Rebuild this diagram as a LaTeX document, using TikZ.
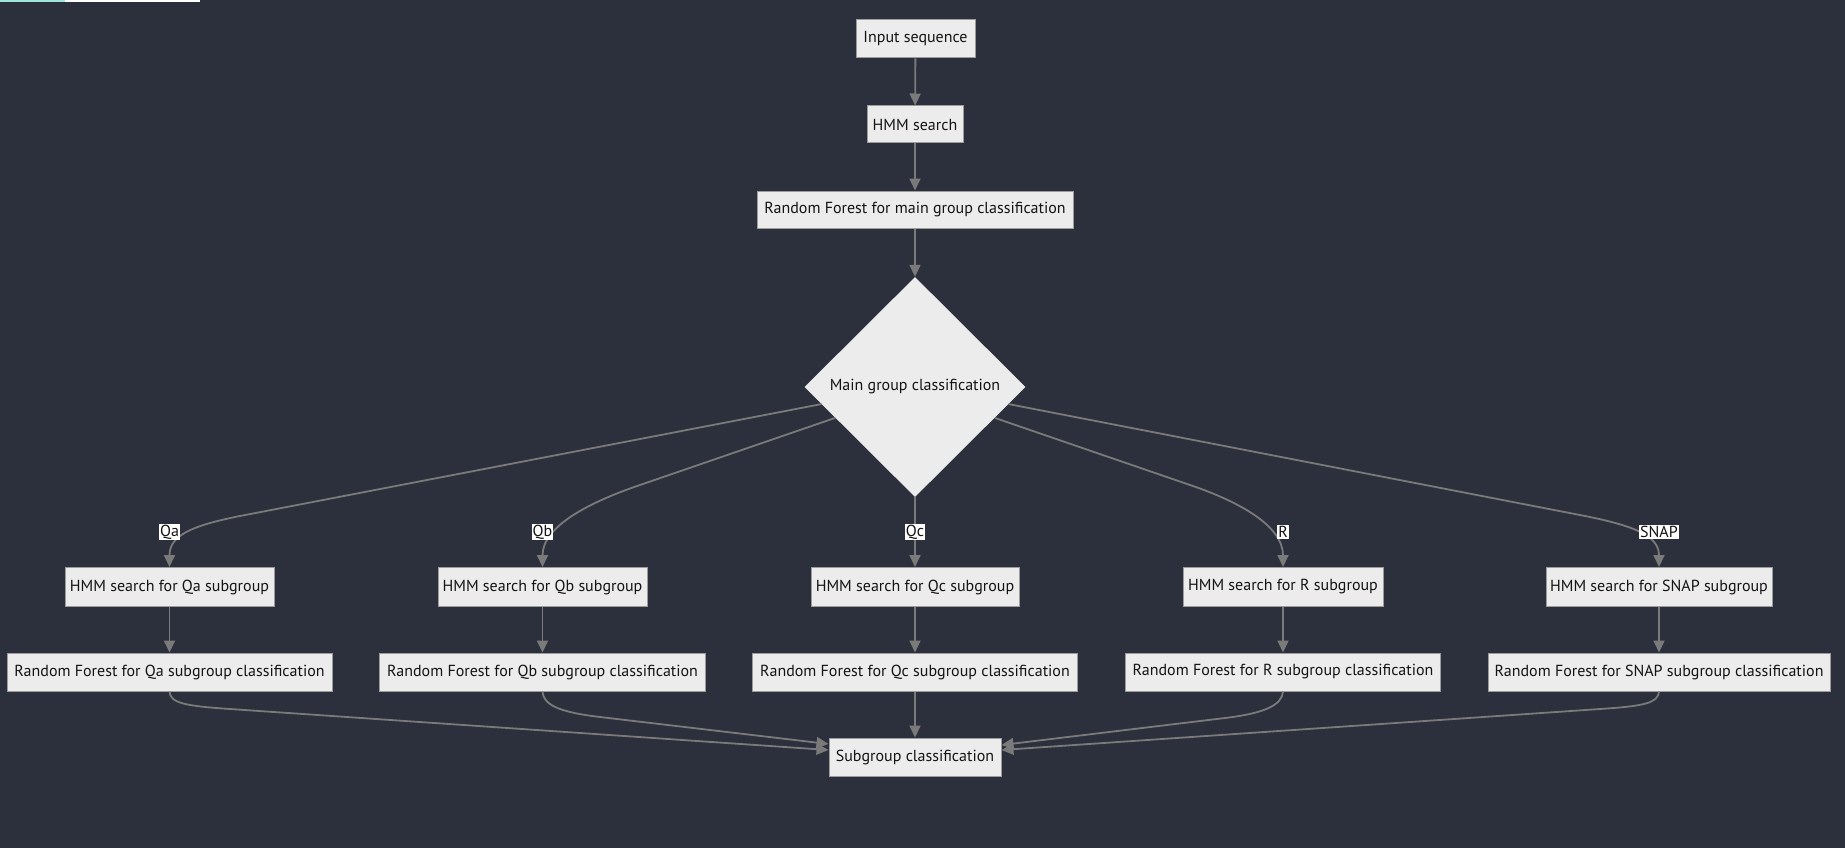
\documentclass[tikz,border=0pt]{standalone}
\usepackage{fontspec}
\setmainfont{PT Sans}
\usetikzlibrary{arrows.meta,shapes.geometric,calc}
\definecolor{bgc}{HTML}{2C303C}
\definecolor{boxfill}{HTML}{ECECEC}
\definecolor{boxline}{HTML}{9C9C9C}
\definecolor{edgec}{HTML}{7A7A7A}
\definecolor{txt}{HTML}{141414}
\definecolor{cyanbar}{HTML}{9FE3D9}
\tikzset{
  box/.style={draw=boxline, line width=1pt, fill=boxfill, text=txt, inner sep=0pt,
    font=\fontsize{16}{19}\selectfont, anchor=center},
  dec/.style={diamond, fill=boxfill, text=txt, inner sep=0pt, minimum width=221pt,
    minimum height=220pt, font=\fontsize{16}{19}\selectfont},
  elab/.style={fill=white, text=txt, inner sep=1pt, font=\fontsize{16}{19}\selectfont},
  edge/.style={draw=edgec, line width=1.8pt, -{Triangle[length=12pt,width=11pt]}},
  plainedge/.style={draw=edgec, line width=1.8pt}
}
\begin{document}
\begin{tikzpicture}[x=1pt,y=-1pt]
\fill[bgc] (0,0) rectangle (1845,848);
\useasboundingbox (0,0) rectangle (1845,848);
\fill[white] (0,0) rectangle (200,2);
\fill[cyanbar] (0,0) rectangle (65,2);

% top chain
\node[box, minimum width=119pt, minimum height=38pt] (in) at (915.5,39) {Input sequence};
\node[box, minimum width=96pt, minimum height=37pt] (hmm) at (915,124.5) {HMM search};
\node[box, minimum width=316pt, minimum height=37pt] (rf) at (915,209.5) {Random Forest for main group classification};
\node[dec] (dia) at (915,387) {Main group classification};

% subgroup HMM boxes
\node[box, minimum width=209pt, minimum height=39pt] (hqa) at (169.5,587) {HMM search for Qa subgroup};
\node[box, minimum width=209pt, minimum height=39pt] (hqb) at (542.5,587) {HMM search for Qb subgroup};
\node[box, minimum width=208pt, minimum height=39pt] (hqc) at (915,587) {HMM search for Qc subgroup};
\node[box, minimum width=200pt, minimum height=39pt] (hr) at (1283,587) {HMM search for R subgroup};
\node[box, minimum width=226pt, minimum height=39pt] (hsn) at (1659,587) {HMM search for SNAP subgroup};

% subgroup RF boxes
\node[box, minimum width=325pt, minimum height=38pt] (rqa) at (169.5,672) {Random Forest for Qa subgroup classification};
\node[box, minimum width=326pt, minimum height=38pt] (rqb) at (542.5,672) {Random Forest for Qb subgroup classification};
\node[box, minimum width=325pt, minimum height=38pt] (rqc) at (915,672) {Random Forest for Qc subgroup classification};
\node[box, minimum width=315pt, minimum height=38pt] (rr) at (1283,672) {Random Forest for R subgroup classification};
\node[box, minimum width=342pt, minimum height=38pt] (rsn) at (1659,672) {Random Forest for SNAP subgroup classification};

\node[box, minimum width=172pt, minimum height=38pt] (sub) at (915,757) {Subgroup classification};

% top edges
\draw[edge] (in) -- (hmm);
\draw[edge] (hmm) -- (rf);
\draw[edge] (rf) -- (dia.north);

% diamond to HMM
\coordinate (sqa) at ($(dia.west)!0.155!(dia.south)$);
\coordinate (sqb) at ($(dia.west)!0.28!(dia.south)$);
\coordinate (sr) at ($(dia.east)!0.28!(dia.south)$);
\coordinate (ssn) at ($(dia.east)!0.155!(dia.south)$);

\draw[edge] (sqa) -- (240,516) .. controls (190,526) and (169.5,536) .. (hqa.north);
\draw[edge] (sqb) -- (640,485) .. controls (590,502) and (542.5,526) .. (hqb.north);
\draw[edge] (dia.south) -- (hqc.north);
\draw[edge] (sr) -- (1190,485) .. controls (1240,502) and (1283,526) .. (hr.north);
\draw[edge] (ssn) -- (1585,516) .. controls (1635,526) and (1659,536) .. (hsn.north);

% labels
\node[elab] (lqa) at (169.5,532) {Qa};
\node[elab] (lqb) at (542.5,532) {Qb};
\node[elab] (lqc) at (915,532) {Qc};
\node[elab] (lr) at (1283,532) {R};
\node[elab] (lsn) at (1659,532) {SNAP};

% HMM to RF
\draw[edge] (hqa) -- (rqa);
\draw[edge] (hqb) -- (rqb);
\draw[edge] (hqc) -- (rqc);
\draw[edge] (hr) -- (rr);
\draw[edge] (hsn) -- (rsn);

% RF to subgroup
\draw[edge] (rqa.south) .. controls (170,703) and (185,706) .. (230,709) -- ([yshift=7pt]sub.west);
\draw[edge] (rqb.south) .. controls (543,705) and (560,712.3) .. (600,717) -- ([yshift=13pt]sub.west);
\draw[edge] (rqc) -- (sub);
\draw[edge] (rr.south) .. controls (1282,705) and (1265,713.2) .. (1225,718) -- ([yshift=12pt]sub.east);
\draw[edge] (rsn.south) .. controls (1658,703) and (1645,706) .. (1600,709) -- ([yshift=7pt]sub.east);
\end{tikzpicture}
\end{document}
